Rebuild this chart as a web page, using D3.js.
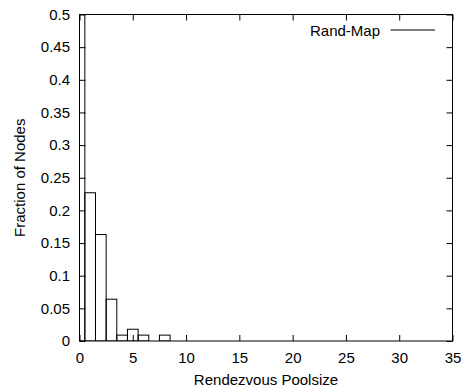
<!DOCTYPE html>
<html>
<head>
<meta charset="utf-8">
<script src="https://cdn.jsdelivr.net/npm/d3@7"></script>
<style>
  body { margin: 0; background: #fff; }
  svg { display: block; }
</style>
</head>
<body>
<svg id="chart"></svg>
<script>
// histogram data
const poolsize = [0, 1, 2, 3, 4, 5, 6, 7, 8]
const fraction = [0.52, 0.227, 0.163, 0.064, 0.009, 0.018, 0.009, 0, 0.009]
const xTicks = [0, 5, 10, 15, 20, 25, 30, 35]
const yTicks = [0, 0.05, 0.1, 0.15, 0.2, 0.25, 0.3, 0.35, 0.4, 0.45, 0.5]
const seriesName = "Rand-Map"

const width = 462
const height = 388
const margin = { left: 79.5, right: 9.5, top: 14.5, bottom: 47 }
const font = "'Liberation Sans', Arial, sans-serif"
const fontSize = '15px'

const svg = d3.select('#chart')
  .attr('width', width)
  .attr('height', height)

const x = d3.scaleLinear()
  .domain([0, 35])
  .range([margin.left, width - margin.right])

const y = d3.scaleLinear()
  .domain([0, 0.5])
  .range([height - margin.bottom, margin.top])

svg.append('clipPath')
  .attr('id', 'plot-clip')
  .append('rect')
  .attr('x', x(0))
  .attr('y', y(0.5))
  .attr('width', x(35) - x(0))
  .attr('height', y(0) - y(0.5))

// boxes, width 1 centred on each poolsize
const data = poolsize.map((p, i) => ({ p, v: fraction[i] }))
svg.append('g')
  .attr('clip-path', 'url(#plot-clip)')
  .selectAll('rect')
  .data(data)
  .enter()
  .append('rect')
  .attr('x', d => x(d.p - 0.5))
  .attr('y', d => y(d.v))
  .attr('width', d => x(d.p + 0.5) - x(d.p - 0.5))
  .attr('height', d => y(0) - y(d.v))
  .attr('fill', 'none')
  .attr('stroke', '#000')
  .attr('stroke-width', 1)

// axes with inward ticks on all four sides
const tickLen = 6
const axBottom = svg.append('g')
  .attr('transform', `translate(0,${y(0)})`)
  .call(d3.axisBottom(x).tickValues(xTicks).tickFormat(d3.format('d')).tickSize(-tickLen).tickPadding(11))
const axTop = svg.append('g')
  .attr('transform', `translate(0,${y(0.5)})`)
  .call(d3.axisTop(x).tickValues(xTicks).tickFormat('').tickSize(-tickLen))
const axLeft = svg.append('g')
  .attr('transform', `translate(${x(0)},0)`)
  .call(d3.axisLeft(y).tickValues(yTicks).tickFormat(d3.format('')).tickSize(-tickLen).tickPadding(9.5))
const axRight = svg.append('g')
  .attr('transform', `translate(${x(35)},0)`)
  .call(d3.axisRight(y).tickValues(yTicks).tickFormat('').tickSize(-tickLen))

for (const ax of [axBottom, axTop, axLeft, axRight]) {
  ax.select('.domain').remove()
  ax.selectAll('line').attr('stroke', '#000')
  ax.selectAll('text')
    .attr('fill', '#000')
    .style('font-family', font)
    .style('font-size', fontSize)
}

// border
svg.append('rect')
  .attr('x', x(0))
  .attr('y', y(0.5))
  .attr('width', x(35) - x(0))
  .attr('height', y(0) - y(0.5))
  .attr('fill', 'none')
  .attr('stroke', '#000')

// axis titles
svg.append('text')
  .attr('x', (x(0) + x(35)) / 2)
  .attr('y', 385)
  .attr('text-anchor', 'middle')
  .style('font-family', font)
  .style('font-size', fontSize)
  .text('Rendezvous Poolsize')

svg.append('text')
  .attr('transform', `translate(25,${(y(0) + y(0.5)) / 2}) rotate(-90)`)
  .attr('text-anchor', 'middle')
  .style('font-family', font)
  .style('font-size', fontSize)
  .text('Fraction of Nodes')

// key
const key = svg.append('g')
key.append('text')
  .attr('x', 380)
  .attr('y', 35.5)
  .attr('text-anchor', 'end')
  .style('font-family', font)
  .style('font-size', fontSize)
  .text(seriesName)
key.append('line')
  .attr('x1', 390.5)
  .attr('x2', 435)
  .attr('y1', 30)
  .attr('y2', 30)
  .attr('stroke', '#000')
</script>
</body>
</html>
